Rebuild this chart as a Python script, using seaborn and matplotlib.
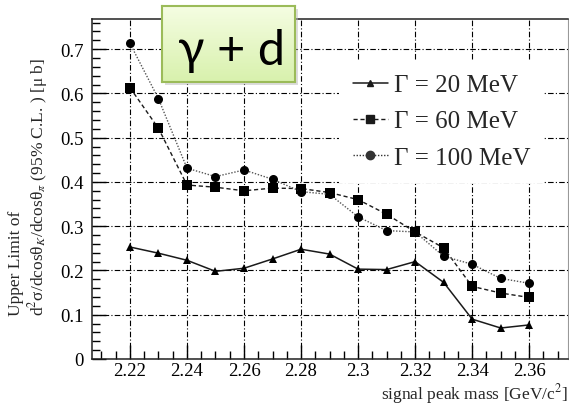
import numpy as np
import pandas as pd
import matplotlib
matplotlib.use("Agg")
import matplotlib.pyplot as plt
import seaborn as sns
from matplotlib.ticker import MultipleLocator, FixedLocator, FixedFormatter
from matplotlib.lines import Line2D

# ---- data ----
mass = [2.22, 2.23, 2.24, 2.25, 2.26, 2.27, 2.28, 2.29, 2.30, 2.31, 2.32, 2.33, 2.34, 2.35, 2.36]
gamma20 = [0.253, 0.239, 0.223, 0.198, 0.205, 0.226, 0.248, 0.237, 0.203, 0.202, 0.220, 0.173, 0.090, 0.070, 0.077]
gamma60 = [0.613, 0.521, 0.393, 0.388, 0.380, 0.386, 0.385, 0.376, 0.360, 0.327, 0.287, 0.251, 0.164, 0.149, 0.139]
gamma100 = [0.713, 0.588, 0.431, 0.412, 0.427, 0.406, 0.378, 0.372, 0.321, 0.290, 0.287, 0.232, 0.214, 0.182, 0.171]
series_labels = ["Γ = 20 MeV", "Γ = 60 MeV", "Γ = 100 MeV"]
xticks = [2.22, 2.24, 2.26, 2.28, 2.30, 2.32, 2.34, 2.36]
xticklabels = ["2.22", "2.24", "2.26", "2.28", "2.3", "2.32", "2.34", "2.36"]
yticks = [0, 0.1, 0.2, 0.3, 0.4, 0.5, 0.6, 0.7]
yticklabels = ["0", "0.1", "0.2", "0.3", "0.4", "0.5", "0.6", "0.7"]

df = pd.DataFrame({
    "mass": mass * 3,
    "limit": gamma20 + gamma60 + gamma100,
    "width": [series_labels[0]] * len(mass) + [series_labels[1]] * len(mass) + [series_labels[2]] * len(mass),
})

sns.set_theme(style="white")
plt.rcParams["font.family"] = ["Liberation Serif", "DejaVu Serif"]
plt.rcParams["mathtext.fontset"] = "stix"

W, H = 569, 410
fig = plt.figure(figsize=(W / 100, H / 100), dpi=100)
axl, axr, axt, axb = 92, 568, 20, 360
ax = fig.add_axes([axl / W, 1 - axb / H, (axr - axl) / W, (axb - axt) / H])

markers = {series_labels[0]: "^", series_labels[1]: "s", series_labels[2]: "o"}
dashes = {series_labels[0]: "", series_labels[1]: (3, 2), series_labels[2]: (1, 1.2)}
colors = {series_labels[0]: "#1a1a1a", series_labels[1]: "#1a1a1a", series_labels[2]: "#555555"}
sizes = {series_labels[0]: 6, series_labels[1]: 6.5, series_labels[2]: 6.5}

for lab in series_labels:
    sub = df[df["width"] == lab]
    sns.lineplot(data=sub, x="mass", y="limit", ax=ax, color=colors[lab],
                 marker=markers[lab], markersize=sizes[lab], markeredgewidth=0,
                 markerfacecolor="black", linewidth=1.1 if lab == series_labels[0] else 1.0,
                 dashes=False, legend=False, zorder=3)
    ln = ax.lines[-1]
    if dashes[lab]:
        ln.set_dashes(dashes[lab])

ax.set_xlim(2.2067, 2.3736)
ax.set_ylim(0, 0.768)
ax.xaxis.set_major_locator(FixedLocator(xticks))
ax.xaxis.set_major_formatter(FixedFormatter(xticklabels))
ax.yaxis.set_major_locator(FixedLocator(yticks))
ax.yaxis.set_major_formatter(FixedFormatter(yticklabels))
ax.xaxis.set_minor_locator(MultipleLocator(0.005))
ax.yaxis.set_minor_locator(MultipleLocator(0.02))
ax.tick_params(axis="both", which="both", direction="in", colors="black",
               labelsize=13.5, bottom=True, left=True, top=False, right=False)
ax.tick_params(axis="both", which="major", length=10, width=1.0)
ax.tick_params(axis="both", which="minor", length=6, width=1.0)
ax.tick_params(axis="x", which="major", pad=2)
ax.tick_params(axis="y", which="major", pad=6)
ax.grid(True, which="major", color="black", linestyle=(0, (5, 2, 1, 2)), linewidth=0.8)
ax.set_axisbelow(True)
for s in ["left", "bottom", "top"]:
    ax.spines[s].set_color("#222222")
    ax.spines[s].set_linewidth(1.1)
ax.spines["right"].set_color("#999999")
ax.spines["right"].set_linewidth(0.8)
ax.set_xlabel("")
ax.set_ylabel("")

handles = [
    Line2D([], [], color="#1a1a1a", marker="^", markersize=5, linewidth=1.1),
    Line2D([], [], color="#1a1a1a", marker="s", markersize=6, linewidth=1.0, dashes=(3, 2)),
    Line2D([], [], color="#333333", marker="o", markersize=6, linewidth=1.0, dashes=(1, 1.2)),
]
leg = ax.legend(handles, series_labels, loc="upper left",
                bbox_to_anchor=((339 - axl) / (axr - axl), 1 - (61 - axt) / (axb - axt)),
                frameon=True, facecolor="white", edgecolor="none", framealpha=1.0,
                fontsize=18, handlelength=1.4, handletextpad=0.25, labelspacing=0.55,
                borderpad=0.55, borderaxespad=0, fancybox=False)
leg.set_zorder(5)

# axis titles
fig.text(568 / W, 1 - 394 / H, "signal peak mass [GeV/c$^2$]", ha="right", va="center", fontsize=12.5)
fig.text(16 / W, 1 - 316 / H, "Upper Limit of", rotation=90, ha="center", va="bottom", fontsize=12.5)
fig.text(38 / W, 1 - 316 / H, r"d$^2$σ/dcosθ$_K$/dcosθ$_\pi$ (95% C.L. ) [μ b]",
         rotation=90, ha="center", va="bottom", fontsize=12.5)

# "γ + d" label box with gradient
bx0, bx1, by0, by1 = 162, 295, 7, 83
shadow = fig.add_axes([(bx0 + 3) / W, 1 - (by1 + 3) / H, (bx1 - bx0) / W, (by1 - by0) / H])
shadow.set_facecolor("#bbbbbb")
shadow.patch.set_alpha(0.5)
shadow.set_xticks([]); shadow.set_yticks([])
for s in shadow.spines.values():
    s.set_visible(False)
box = fig.add_axes([bx0 / W, 1 - by1 / H, (bx1 - bx0) / W, (by1 - by0) / H])
top_c = np.array(matplotlib.colors.to_rgb("#f5fde2"))
bot_c = np.array(matplotlib.colors.to_rgb("#d8f1ad"))
t = np.linspace(0, 1, 64)[:, None]
grad = (top_c[None, :] * (1 - t) + bot_c[None, :] * t)[:, None, :]
box.imshow(grad, aspect="auto", extent=[0, 1, 0, 1], origin="upper")
box.set_xlim(0, 1); box.set_ylim(0, 1)
box.set_xticks([]); box.set_yticks([])
for s in box.spines.values():
    s.set_color("#9bbb59")
    s.set_linewidth(1.5)
box.text(0.52, 0.42, "γ + d", ha="center", va="center", fontsize=35,
         family=["Lato", "DejaVu Sans"], color="black")

fig.savefig("out.png", dpi=100)
